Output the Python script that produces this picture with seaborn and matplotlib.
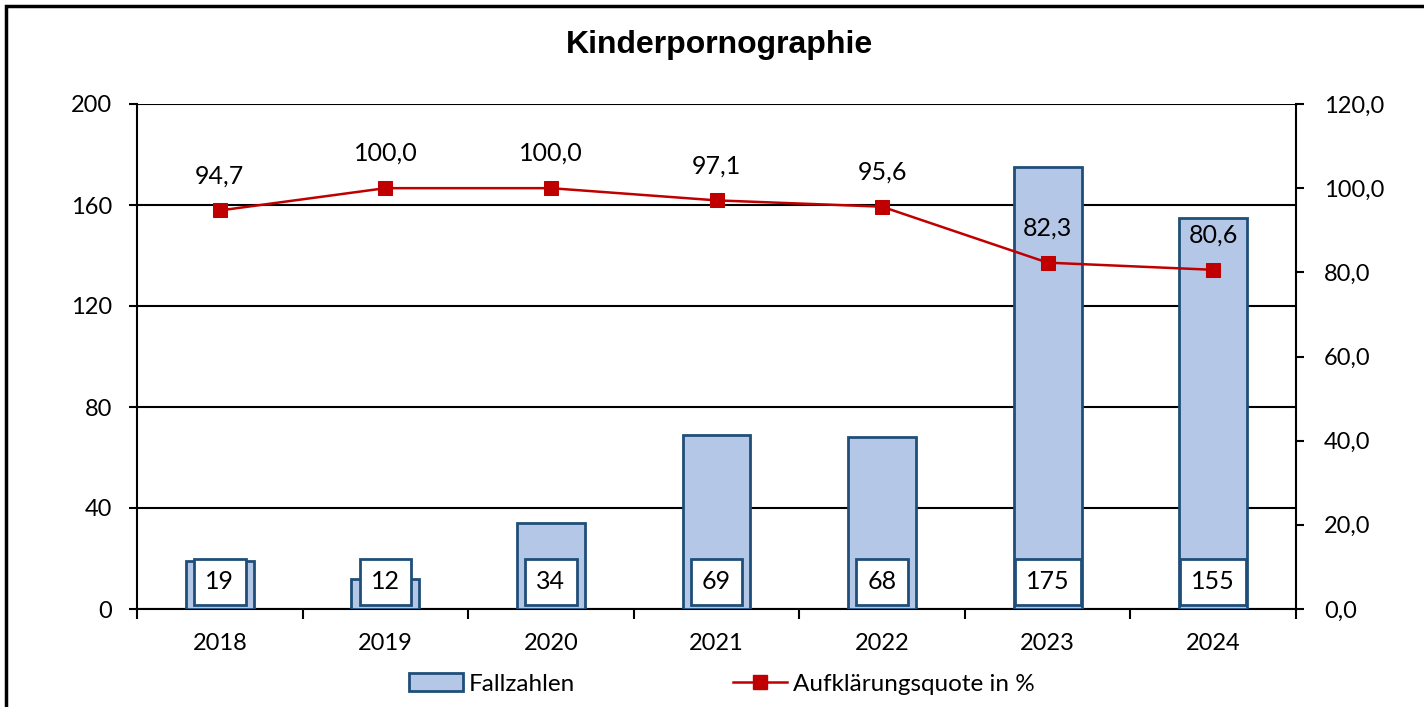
import numpy as np
import pandas as pd
import matplotlib.pyplot as plt
import seaborn as sns
from matplotlib.patches import Rectangle
from matplotlib.lines import Line2D
from matplotlib.patches import Patch

plt.switch_backend("agg")

# chart data
years = ["2018", "2019", "2020", "2021", "2022", "2023", "2024"]
fallzahlen = [19, 12, 34, 69, 68, 175, 155]
quote = [94.7, 100.0, 100.0, 97.1, 95.6, 82.3, 80.6]
left_ticks = [0, 40, 80, 120, 160, 200]
right_ticks = [0, 20, 40, 60, 80, 100, 120]

BAR_FILL = "#B4C7E7"
BAR_EDGE = "#1F4E79"
LINE_RED = "#C00000"

plt.rcParams["font.family"] = ["Lato", "DejaVu Sans"]

df = pd.DataFrame({"year": years, "faelle": fallzahlen, "quote": quote})
df["pos"] = np.arange(len(df))

fig = plt.figure(figsize=(14.24, 7.07), dpi=100)
ax = fig.add_axes([137 / 1424, 1 - 609 / 707, (1296 - 137) / 1424, (609 - 104) / 707])

# bars
sns.barplot(data=df, x="year", y="faelle", color=BAR_FILL, width=0.41,
            saturation=1, edgecolor=BAR_EDGE, linewidth=2, ax=ax, zorder=3)
ax.set_ylim(0, 200)
ax.set_xlim(-0.5, len(years) - 0.5)
ax.set_yticks(left_ticks)
ax.yaxis.grid(True, color="black", linewidth=1.5, zorder=1)
ax.set_axisbelow(True)
ax.set_xlabel("")
ax.set_ylabel("")
for side in ["top", "right"]:
    ax.spines[side].set_visible(False)
for side in ["left", "bottom"]:
    ax.spines[side].set_linewidth(1.5)
    ax.spines[side].set_color("black")
ax.tick_params(axis="y", direction="out", length=6, width=1.5, labelsize=17, pad=12)

# categories: boundary ticks + centred labels
ax.set_xticks(np.arange(len(years) + 1) - 0.5)
ax.set_xticklabels([])
ax.tick_params(axis="x", which="major", direction="out", length=7, width=1.5)
ax.set_xticks(df["pos"], minor=True)
ax.set_xticklabels(years, minor=True)
ax.tick_params(axis="x", which="minor", length=0, labelsize=17, pad=17)

# value boxes at the foot of each bar
for p, v in zip(df["pos"], df["faelle"]):
    ax.text(p, 10.7, str(v), ha="center", va="center", fontsize=18, zorder=5,
            bbox=dict(boxstyle="square,pad=0.45", facecolor="white",
                      edgecolor=BAR_EDGE, linewidth=2))

# line on secondary axis
ax2 = ax.twinx()
sns.lineplot(data=df, x="pos", y="quote", color=LINE_RED, linewidth=1.8,
             marker="s", markersize=10, markeredgecolor=LINE_RED, ax=ax2, zorder=6)
ax2.set_ylim(0, 120)
ax2.set_xlim(-0.5, len(years) - 0.5)
ax2.set_yticks(right_ticks)
ax2.set_yticklabels([f"{t:.1f}".replace(".", ",") for t in right_ticks])
ax2.set_xlabel("")
ax2.set_ylabel("")
for side in ["top", "left", "bottom"]:
    ax2.spines[side].set_visible(False)
ax2.spines["right"].set_linewidth(1.5)
ax2.tick_params(axis="y", direction="out", length=6, width=1.5, labelsize=17, pad=14)

for p, q in zip(df["pos"], df["quote"]):
    ax2.annotate(f"{q:.1f}".replace(".", ","), (p, q), xytext=(0, 25),
                 textcoords="offset points", ha="center", va="center", fontsize=18)

# title
fig.text(0.505, 1 - 45 / 707, "Kinderpornographie", ha="center", va="center",
         fontsize=23, fontweight="bold", family=["Liberation Sans", "DejaVu Sans"])

# legend
handles = [Patch(facecolor=BAR_FILL, edgecolor=BAR_EDGE, linewidth=2),
           Line2D([], [], color=LINE_RED, linewidth=1.8, marker="s", markersize=10)]
fig.legend(handles, ["Fallzahlen", "Aufklärungsquote in %"], loc="center",
           bbox_to_anchor=(0.507, 1 - 684 / 707), ncol=2, frameon=False,
           fontsize=17.5, handlelength=2.2, handletextpad=0.25, columnspacing=6.5)

# outer chart frame
fig.patches.append(Rectangle((6 / 1424, -0.05), 1.2, 1.05 - 6 / 707,
                             transform=fig.transFigure, fill=False,
                             edgecolor="black", linewidth=2.5))

fig.savefig("out.png", dpi=100)
